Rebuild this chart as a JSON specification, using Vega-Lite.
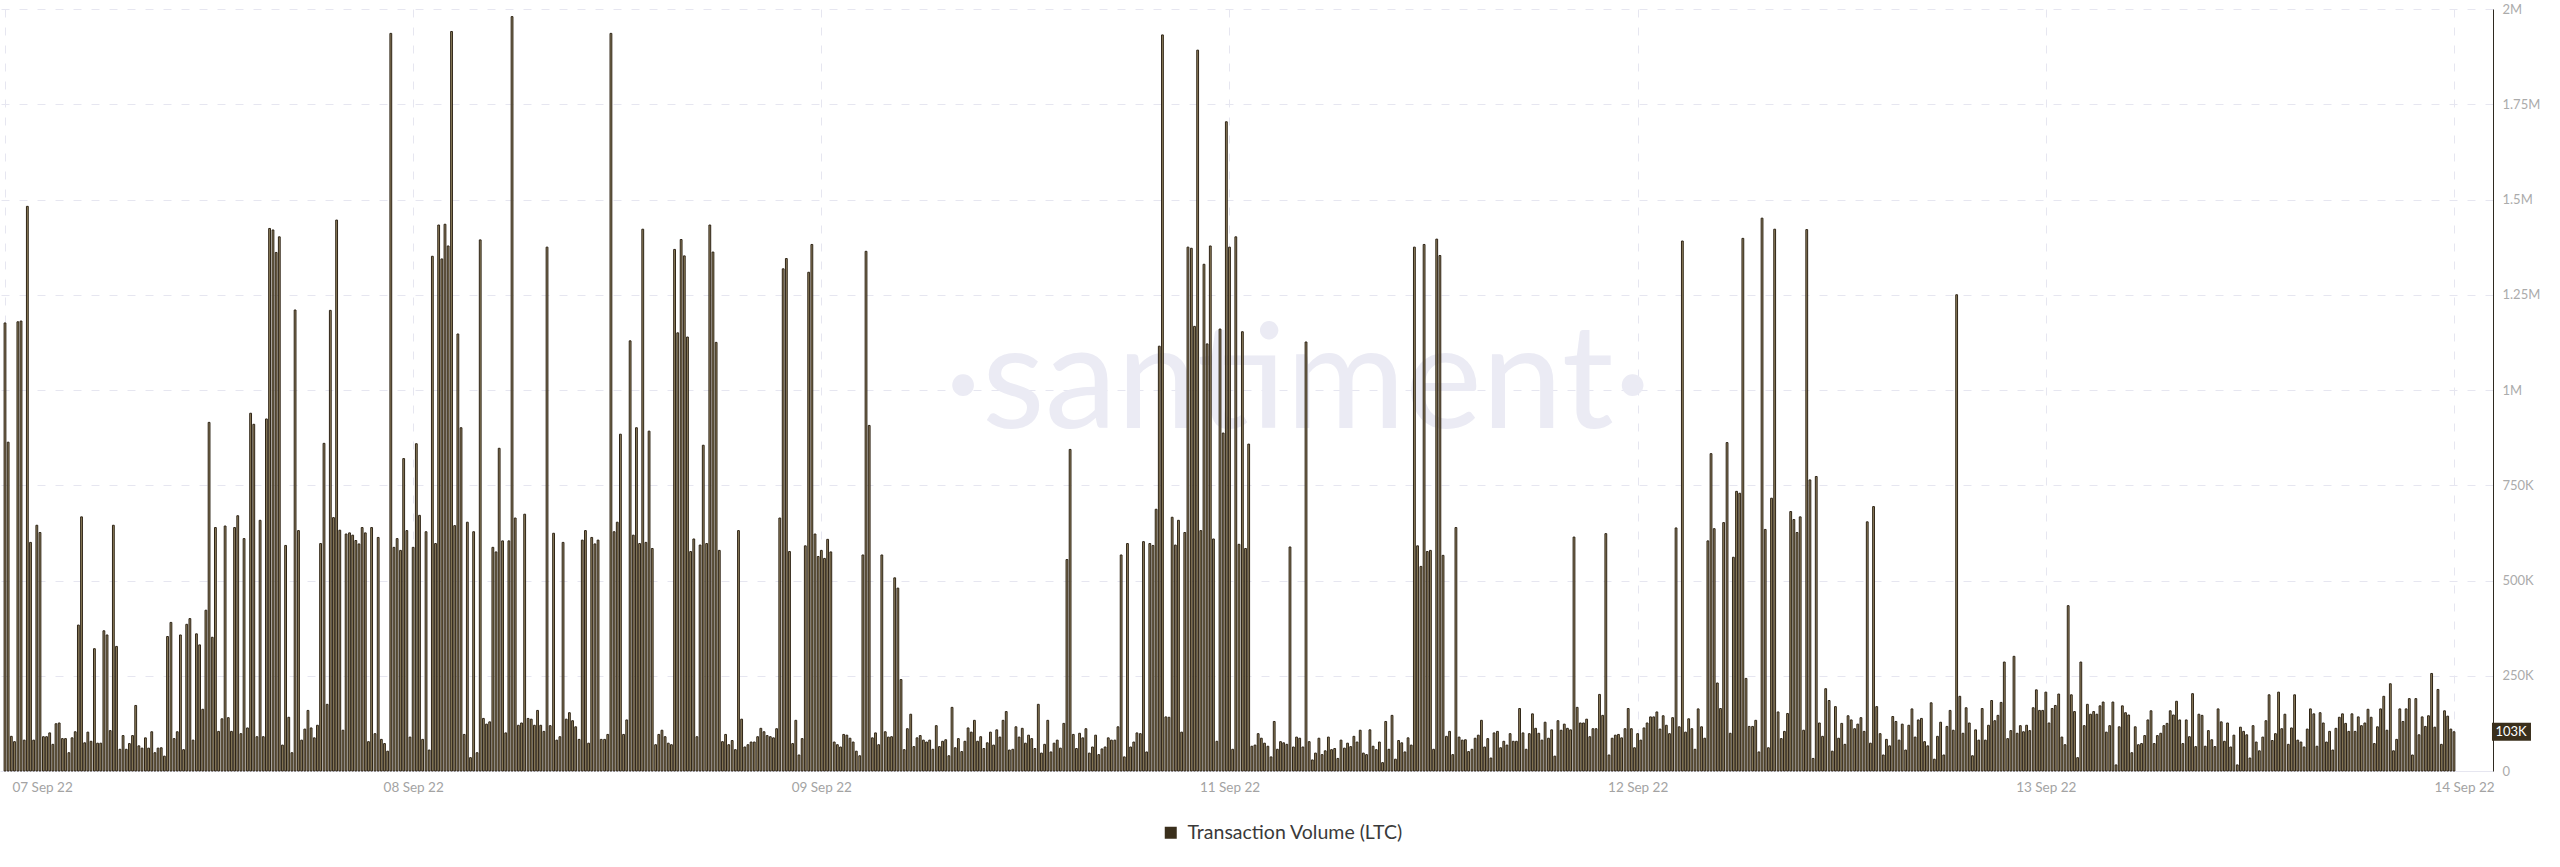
{
"$schema":"https://vega.github.io/schema/vega-lite/v6.json",
"width":2493,"height":762,
"autosize":{"type":"none"},
"padding":{"left":0,"top":9,"right":67,"bottom":96},
"background":"#ffffff",
"config":{"view":{"stroke":null},"font":"Lato"},
"data":{"format":{"parse":{"t":"date:'%Y-%m-%d %H:%M'"}},"values":[
{"t":"2022-09-07 00:00","v":1176},{"t":"2022-09-07 00:13","v":863},{"t":"2022-09-07 00:26","v":91},{"t":"2022-09-07 00:39","v":77},{"t":"2022-09-07 00:53","v":1179},{"t":"2022-09-07 01:06","v":1181},{"t":"2022-09-07 01:19","v":81},{"t":"2022-09-07 01:32","v":1482},{"t":"2022-09-07 01:45","v":600},{"t":"2022-09-07 01:58","v":81},{"t":"2022-09-07 02:11","v":645},{"t":"2022-09-07 02:24","v":626},{"t":"2022-09-07 02:38","v":90},{"t":"2022-09-07 02:51","v":90},{"t":"2022-09-07 03:04","v":100},{"t":"2022-09-07 03:17","v":70},{"t":"2022-09-07 03:30","v":124},{"t":"2022-09-07 03:43","v":126},{"t":"2022-09-07 03:56","v":85},{"t":"2022-09-07 04:09","v":85},{"t":"2022-09-07 04:23","v":48},{"t":"2022-09-07 04:36","v":87},{"t":"2022-09-07 04:49","v":103},{"t":"2022-09-07 05:02","v":383},{"t":"2022-09-07 05:15","v":667},{"t":"2022-09-07 05:28","v":74},{"t":"2022-09-07 05:41","v":102},{"t":"2022-09-07 05:54","v":78},{"t":"2022-09-07 06:08","v":321},{"t":"2022-09-07 06:21","v":73},{"t":"2022-09-07 06:34","v":73},{"t":"2022-09-07 06:47","v":368},
{"t":"2022-09-07 07:00","v":357},{"t":"2022-09-07 07:13","v":106},{"t":"2022-09-07 07:26","v":645},{"t":"2022-09-07 07:39","v":327},{"t":"2022-09-07 07:53","v":57},{"t":"2022-09-07 08:06","v":93},{"t":"2022-09-07 08:19","v":57},{"t":"2022-09-07 08:32","v":72},{"t":"2022-09-07 08:45","v":93},{"t":"2022-09-07 08:58","v":172},{"t":"2022-09-07 09:11","v":66},{"t":"2022-09-07 09:24","v":60},{"t":"2022-09-07 09:38","v":87},{"t":"2022-09-07 09:51","v":60},{"t":"2022-09-07 10:04","v":103},{"t":"2022-09-07 10:17","v":48},{"t":"2022-09-07 10:30","v":60},{"t":"2022-09-07 10:43","v":61},{"t":"2022-09-07 10:56","v":39},{"t":"2022-09-07 11:09","v":353},{"t":"2022-09-07 11:23","v":390},{"t":"2022-09-07 11:36","v":85},{"t":"2022-09-07 11:49","v":103},{"t":"2022-09-07 12:02","v":357},{"t":"2022-09-07 12:15","v":56},{"t":"2022-09-07 12:28","v":385},{"t":"2022-09-07 12:41","v":400},{"t":"2022-09-07 12:54","v":81},{"t":"2022-09-07 13:08","v":360},{"t":"2022-09-07 13:21","v":331},{"t":"2022-09-07 13:34","v":162},{"t":"2022-09-07 13:47","v":422},
{"t":"2022-09-07 14:00","v":915},{"t":"2022-09-07 14:13","v":351},{"t":"2022-09-07 14:26","v":639},{"t":"2022-09-07 14:39","v":104},{"t":"2022-09-07 14:53","v":137},{"t":"2022-09-07 15:06","v":643},{"t":"2022-09-07 15:19","v":140},{"t":"2022-09-07 15:32","v":104},{"t":"2022-09-07 15:45","v":639},{"t":"2022-09-07 15:58","v":670},{"t":"2022-09-07 16:11","v":98},{"t":"2022-09-07 16:24","v":610},{"t":"2022-09-07 16:38","v":113},{"t":"2022-09-07 16:51","v":939},{"t":"2022-09-07 17:04","v":910},{"t":"2022-09-07 17:17","v":90},{"t":"2022-09-07 17:30","v":658},{"t":"2022-09-07 17:43","v":90},{"t":"2022-09-07 17:56","v":924},{"t":"2022-09-07 18:09","v":1424},{"t":"2022-09-07 18:23","v":1420},{"t":"2022-09-07 18:36","v":1361},{"t":"2022-09-07 18:49","v":1402},{"t":"2022-09-07 19:02","v":68},{"t":"2022-09-07 19:15","v":592},{"t":"2022-09-07 19:28","v":141},{"t":"2022-09-07 19:41","v":48},{"t":"2022-09-07 19:54","v":1210},{"t":"2022-09-07 20:08","v":631},{"t":"2022-09-07 20:21","v":81},{"t":"2022-09-07 20:34","v":110},{"t":"2022-09-07 20:47","v":159},
{"t":"2022-09-07 21:00","v":113},{"t":"2022-09-07 21:13","v":87},{"t":"2022-09-07 21:26","v":120},{"t":"2022-09-07 21:39","v":597},{"t":"2022-09-07 21:53","v":860},{"t":"2022-09-07 22:06","v":175},{"t":"2022-09-07 22:19","v":1209},{"t":"2022-09-07 22:32","v":665},{"t":"2022-09-07 22:45","v":1446},{"t":"2022-09-07 22:58","v":632},{"t":"2022-09-07 23:11","v":107},{"t":"2022-09-07 23:24","v":622},{"t":"2022-09-07 23:38","v":625},{"t":"2022-09-07 23:51","v":619},{"t":"2022-09-08 00:04","v":605},{"t":"2022-09-08 00:17","v":596},{"t":"2022-09-08 00:30","v":639},{"t":"2022-09-08 00:43","v":625},{"t":"2022-09-08 00:56","v":77},{"t":"2022-09-08 01:09","v":639},{"t":"2022-09-08 01:23","v":98},{"t":"2022-09-08 01:36","v":613},{"t":"2022-09-08 01:49","v":83},{"t":"2022-09-08 02:02","v":72},{"t":"2022-09-08 02:15","v":52},{"t":"2022-09-08 02:28","v":1936},{"t":"2022-09-08 02:41","v":587},{"t":"2022-09-08 02:54","v":610},{"t":"2022-09-08 03:08","v":579},{"t":"2022-09-08 03:21","v":820},{"t":"2022-09-08 03:34","v":631},{"t":"2022-09-08 03:47","v":89},
{"t":"2022-09-08 04:00","v":587},{"t":"2022-09-08 04:13","v":859},{"t":"2022-09-08 04:26","v":671},{"t":"2022-09-08 04:39","v":83},{"t":"2022-09-08 04:53","v":628},{"t":"2022-09-08 05:06","v":55},{"t":"2022-09-08 05:19","v":1351},{"t":"2022-09-08 05:32","v":597},{"t":"2022-09-08 05:45","v":1433},{"t":"2022-09-08 05:58","v":1344},{"t":"2022-09-08 06:11","v":1435},{"t":"2022-09-08 06:24","v":1378},{"t":"2022-09-08 06:38","v":1941},{"t":"2022-09-08 06:51","v":644},{"t":"2022-09-08 07:04","v":1147},{"t":"2022-09-08 07:17","v":901},{"t":"2022-09-08 07:30","v":96},{"t":"2022-09-08 07:43","v":653},{"t":"2022-09-08 07:56","v":35},{"t":"2022-09-08 08:09","v":628},{"t":"2022-09-08 08:23","v":48},{"t":"2022-09-08 08:36","v":1394},{"t":"2022-09-08 08:49","v":138},{"t":"2022-09-08 09:02","v":123},{"t":"2022-09-08 09:15","v":129},{"t":"2022-09-08 09:28","v":587},{"t":"2022-09-08 09:41","v":575},{"t":"2022-09-08 09:54","v":847},{"t":"2022-09-08 10:08","v":604},{"t":"2022-09-08 10:21","v":100},{"t":"2022-09-08 10:34","v":604},{"t":"2022-09-08 10:47","v":1980},
{"t":"2022-09-08 11:00","v":664},{"t":"2022-09-08 11:13","v":120},{"t":"2022-09-08 11:26","v":126},{"t":"2022-09-08 11:39","v":674},{"t":"2022-09-08 11:53","v":138},{"t":"2022-09-08 12:06","v":136},{"t":"2022-09-08 12:19","v":120},{"t":"2022-09-08 12:32","v":159},{"t":"2022-09-08 12:45","v":120},{"t":"2022-09-08 12:58","v":104},{"t":"2022-09-08 13:11","v":1375},{"t":"2022-09-08 13:24","v":119},{"t":"2022-09-08 13:38","v":624},{"t":"2022-09-08 13:51","v":81},{"t":"2022-09-08 14:04","v":90},{"t":"2022-09-08 14:17","v":600},{"t":"2022-09-08 14:30","v":136},{"t":"2022-09-08 14:43","v":153},{"t":"2022-09-08 14:56","v":132},{"t":"2022-09-08 15:09","v":116},{"t":"2022-09-08 15:23","v":83},{"t":"2022-09-08 15:36","v":606},{"t":"2022-09-08 15:49","v":631},{"t":"2022-09-08 16:02","v":73},{"t":"2022-09-08 16:15","v":613},{"t":"2022-09-08 16:28","v":596},{"t":"2022-09-08 16:41","v":606},{"t":"2022-09-08 16:54","v":83},{"t":"2022-09-08 17:08","v":83},{"t":"2022-09-08 17:21","v":96},{"t":"2022-09-08 17:34","v":1936},{"t":"2022-09-08 17:47","v":628},
{"t":"2022-09-08 18:00","v":653},{"t":"2022-09-08 18:13","v":884},{"t":"2022-09-08 18:26","v":96},{"t":"2022-09-08 18:39","v":134},{"t":"2022-09-08 18:53","v":1129},{"t":"2022-09-08 19:06","v":619},{"t":"2022-09-08 19:19","v":901},{"t":"2022-09-08 19:32","v":597},{"t":"2022-09-08 19:45","v":1422},{"t":"2022-09-08 19:58","v":600},{"t":"2022-09-08 20:11","v":892},{"t":"2022-09-08 20:24","v":584},{"t":"2022-09-08 20:38","v":69},{"t":"2022-09-08 20:51","v":96},{"t":"2022-09-08 21:04","v":107},{"t":"2022-09-08 21:17","v":90},{"t":"2022-09-08 21:30","v":73},{"t":"2022-09-08 21:43","v":69},{"t":"2022-09-08 21:56","v":1369},{"t":"2022-09-08 22:09","v":1150},{"t":"2022-09-08 22:23","v":1395},{"t":"2022-09-08 22:36","v":1352},{"t":"2022-09-08 22:49","v":1139},{"t":"2022-09-08 23:02","v":576},{"t":"2022-09-08 23:15","v":609},{"t":"2022-09-08 23:28","v":90},{"t":"2022-09-08 23:41","v":593},{"t":"2022-09-08 23:54","v":855},{"t":"2022-09-09 00:08","v":597},{"t":"2022-09-09 00:21","v":1433},{"t":"2022-09-09 00:34","v":1362},{"t":"2022-09-09 00:47","v":1125},
{"t":"2022-09-09 01:00","v":579},{"t":"2022-09-09 01:13","v":77},{"t":"2022-09-09 01:26","v":96},{"t":"2022-09-09 01:39","v":69},{"t":"2022-09-09 01:53","v":80},{"t":"2022-09-09 02:06","v":56},{"t":"2022-09-09 02:19","v":631},{"t":"2022-09-09 02:32","v":136},{"t":"2022-09-09 02:45","v":63},{"t":"2022-09-09 02:58","v":69},{"t":"2022-09-09 03:11","v":76},{"t":"2022-09-09 03:24","v":76},{"t":"2022-09-09 03:38","v":90},{"t":"2022-09-09 03:51","v":112},{"t":"2022-09-09 04:04","v":103},{"t":"2022-09-09 04:17","v":93},{"t":"2022-09-09 04:30","v":90},{"t":"2022-09-09 04:43","v":87},{"t":"2022-09-09 04:56","v":111},{"t":"2022-09-09 05:09","v":664},{"t":"2022-09-09 05:23","v":1318},{"t":"2022-09-09 05:36","v":1345},{"t":"2022-09-09 05:49","v":576},{"t":"2022-09-09 06:02","v":72},{"t":"2022-09-09 06:15","v":133},{"t":"2022-09-09 06:28","v":42},{"t":"2022-09-09 06:41","v":85},{"t":"2022-09-09 06:54","v":591},{"t":"2022-09-09 07:08","v":1309},{"t":"2022-09-09 07:21","v":1382},{"t":"2022-09-09 07:34","v":622},{"t":"2022-09-09 07:47","v":563},
{"t":"2022-09-09 08:00","v":579},{"t":"2022-09-09 08:13","v":558},{"t":"2022-09-09 08:26","v":608},{"t":"2022-09-09 08:39","v":575},{"t":"2022-09-09 08:53","v":76},{"t":"2022-09-09 09:06","v":69},{"t":"2022-09-09 09:19","v":63},{"t":"2022-09-09 09:32","v":96},{"t":"2022-09-09 09:45","v":94},{"t":"2022-09-09 09:58","v":86},{"t":"2022-09-09 10:11","v":76},{"t":"2022-09-09 10:24","v":52},{"t":"2022-09-09 10:38","v":40},{"t":"2022-09-09 10:51","v":567},{"t":"2022-09-09 11:04","v":1364},{"t":"2022-09-09 11:17","v":907},{"t":"2022-09-09 11:30","v":87},{"t":"2022-09-09 11:43","v":100},{"t":"2022-09-09 11:56","v":69},{"t":"2022-09-09 12:09","v":567},{"t":"2022-09-09 12:23","v":103},{"t":"2022-09-09 12:36","v":89},{"t":"2022-09-09 12:49","v":90},{"t":"2022-09-09 13:02","v":507},{"t":"2022-09-09 13:15","v":480},{"t":"2022-09-09 13:28","v":240},{"t":"2022-09-09 13:41","v":56},{"t":"2022-09-09 13:54","v":111},{"t":"2022-09-09 14:08","v":149},{"t":"2022-09-09 14:21","v":64},{"t":"2022-09-09 14:34","v":87},{"t":"2022-09-09 14:47","v":93},
{"t":"2022-09-09 15:00","v":81},{"t":"2022-09-09 15:13","v":76},{"t":"2022-09-09 15:26","v":81},{"t":"2022-09-09 15:39","v":57},{"t":"2022-09-09 15:53","v":119},{"t":"2022-09-09 16:06","v":64},{"t":"2022-09-09 16:19","v":78},{"t":"2022-09-09 16:32","v":82},{"t":"2022-09-09 16:45","v":40},{"t":"2022-09-09 16:58","v":167},{"t":"2022-09-09 17:11","v":61},{"t":"2022-09-09 17:24","v":85},{"t":"2022-09-09 17:38","v":51},{"t":"2022-09-09 17:51","v":78},{"t":"2022-09-09 18:04","v":113},{"t":"2022-09-09 18:17","v":102},{"t":"2022-09-09 18:30","v":133},{"t":"2022-09-09 18:43","v":78},{"t":"2022-09-09 18:56","v":90},{"t":"2022-09-09 19:09","v":59},{"t":"2022-09-09 19:23","v":74},{"t":"2022-09-09 19:36","v":102},{"t":"2022-09-09 19:49","v":68},{"t":"2022-09-09 20:02","v":108},{"t":"2022-09-09 20:15","v":89},{"t":"2022-09-09 20:28","v":133},{"t":"2022-09-09 20:41","v":156},{"t":"2022-09-09 20:54","v":55},{"t":"2022-09-09 21:08","v":57},{"t":"2022-09-09 21:21","v":116},{"t":"2022-09-09 21:34","v":89},{"t":"2022-09-09 21:47","v":112},
{"t":"2022-09-09 22:00","v":73},{"t":"2022-09-09 22:13","v":94},{"t":"2022-09-09 22:26","v":85},{"t":"2022-09-09 22:39","v":59},{"t":"2022-09-09 22:53","v":175},{"t":"2022-09-09 23:06","v":47},{"t":"2022-09-09 23:19","v":70},{"t":"2022-09-09 23:32","v":133},{"t":"2022-09-09 23:45","v":50},{"t":"2022-09-09 23:58","v":73},{"t":"2022-09-10 00:11","v":81},{"t":"2022-09-10 00:24","v":60},{"t":"2022-09-10 00:38","v":125},{"t":"2022-09-10 00:51","v":555},{"t":"2022-09-10 01:04","v":844},{"t":"2022-09-10 01:17","v":96},{"t":"2022-09-10 01:30","v":59},{"t":"2022-09-10 01:43","v":99},{"t":"2022-09-10 01:56","v":87},{"t":"2022-09-10 02:09","v":111},{"t":"2022-09-10 02:23","v":47},{"t":"2022-09-10 02:36","v":63},{"t":"2022-09-10 02:49","v":94},{"t":"2022-09-10 03:02","v":43},{"t":"2022-09-10 03:15","v":58},{"t":"2022-09-10 03:28","v":63},{"t":"2022-09-10 03:41","v":87},{"t":"2022-09-10 03:54","v":81},{"t":"2022-09-10 04:08","v":81},{"t":"2022-09-10 04:21","v":116},{"t":"2022-09-10 04:34","v":567},{"t":"2022-09-10 04:47","v":37},
{"t":"2022-09-10 05:00","v":597},{"t":"2022-09-10 05:13","v":63},{"t":"2022-09-10 05:26","v":76},{"t":"2022-09-10 05:39","v":100},{"t":"2022-09-10 05:53","v":98},{"t":"2022-09-10 06:06","v":602},{"t":"2022-09-10 06:19","v":50},{"t":"2022-09-10 06:32","v":597},{"t":"2022-09-10 06:45","v":592},{"t":"2022-09-10 06:58","v":687},{"t":"2022-09-10 07:11","v":1115},{"t":"2022-09-10 07:24","v":1932},{"t":"2022-09-10 07:38","v":142},{"t":"2022-09-10 07:51","v":141},{"t":"2022-09-10 08:04","v":666},{"t":"2022-09-10 08:17","v":593},{"t":"2022-09-10 08:30","v":658},{"t":"2022-09-10 08:43","v":102},{"t":"2022-09-10 08:56","v":626},{"t":"2022-09-10 09:09","v":1375},{"t":"2022-09-10 09:23","v":1372},{"t":"2022-09-10 09:36","v":1167},{"t":"2022-09-10 09:49","v":1892},{"t":"2022-09-10 10:02","v":631},{"t":"2022-09-10 10:15","v":1330},{"t":"2022-09-10 10:28","v":1121},{"t":"2022-09-10 10:41","v":1378},{"t":"2022-09-10 10:54","v":609},{"t":"2022-09-10 11:08","v":78},{"t":"2022-09-10 11:21","v":1160},{"t":"2022-09-10 11:34","v":887},{"t":"2022-09-10 11:47","v":1704},
{"t":"2022-09-10 12:00","v":1375},{"t":"2022-09-10 12:13","v":57},{"t":"2022-09-10 12:26","v":1402},{"t":"2022-09-10 12:39","v":595},{"t":"2022-09-10 12:53","v":1153},{"t":"2022-09-10 13:06","v":584},{"t":"2022-09-10 13:19","v":858},{"t":"2022-09-10 13:32","v":65},{"t":"2022-09-10 13:45","v":68},{"t":"2022-09-10 13:58","v":98},{"t":"2022-09-10 14:11","v":86},{"t":"2022-09-10 14:24","v":73},{"t":"2022-09-10 14:38","v":65},{"t":"2022-09-10 14:51","v":37},{"t":"2022-09-10 15:04","v":130},{"t":"2022-09-10 15:17","v":57},{"t":"2022-09-10 15:30","v":77},{"t":"2022-09-10 15:43","v":74},{"t":"2022-09-10 15:56","v":70},{"t":"2022-09-10 16:09","v":588},{"t":"2022-09-10 16:23","v":63},{"t":"2022-09-10 16:36","v":89},{"t":"2022-09-10 16:49","v":86},{"t":"2022-09-10 17:02","v":63},{"t":"2022-09-10 17:15","v":1126},{"t":"2022-09-10 17:28","v":77},{"t":"2022-09-10 17:41","v":29},{"t":"2022-09-10 17:54","v":47},{"t":"2022-09-10 18:08","v":86},{"t":"2022-09-10 18:21","v":43},{"t":"2022-09-10 18:34","v":53},{"t":"2022-09-10 18:47","v":89},
{"t":"2022-09-10 19:00","v":56},{"t":"2022-09-10 19:13","v":59},{"t":"2022-09-10 19:26","v":33},{"t":"2022-09-10 19:39","v":81},{"t":"2022-09-10 19:53","v":60},{"t":"2022-09-10 20:06","v":73},{"t":"2022-09-10 20:19","v":64},{"t":"2022-09-10 20:32","v":91},{"t":"2022-09-10 20:45","v":76},{"t":"2022-09-10 20:58","v":107},{"t":"2022-09-10 21:11","v":47},{"t":"2022-09-10 21:24","v":43},{"t":"2022-09-10 21:38","v":108},{"t":"2022-09-10 21:51","v":65},{"t":"2022-09-10 22:04","v":56},{"t":"2022-09-10 22:17","v":76},{"t":"2022-09-10 22:30","v":22},{"t":"2022-09-10 22:43","v":130},{"t":"2022-09-10 22:56","v":57},{"t":"2022-09-10 23:09","v":146},{"t":"2022-09-10 23:23","v":31},{"t":"2022-09-10 23:36","v":80},{"t":"2022-09-10 23:49","v":74},{"t":"2022-09-11 00:02","v":50},{"t":"2022-09-11 00:15","v":87},{"t":"2022-09-11 00:28","v":68},{"t":"2022-09-11 00:41","v":1375},{"t":"2022-09-11 00:54","v":591},{"t":"2022-09-11 01:08","v":537},{"t":"2022-09-11 01:21","v":1382},{"t":"2022-09-11 01:34","v":576},{"t":"2022-09-11 01:47","v":579},
{"t":"2022-09-11 02:00","v":57},{"t":"2022-09-11 02:13","v":1396},{"t":"2022-09-11 02:26","v":1353},{"t":"2022-09-11 02:39","v":566},{"t":"2022-09-11 02:53","v":91},{"t":"2022-09-11 03:06","v":104},{"t":"2022-09-11 03:19","v":43},{"t":"2022-09-11 03:32","v":639},{"t":"2022-09-11 03:45","v":89},{"t":"2022-09-11 03:58","v":81},{"t":"2022-09-11 04:11","v":82},{"t":"2022-09-11 04:24","v":51},{"t":"2022-09-11 04:38","v":57},{"t":"2022-09-11 04:51","v":86},{"t":"2022-09-11 05:04","v":94},{"t":"2022-09-11 05:17","v":133},{"t":"2022-09-11 05:30","v":63},{"t":"2022-09-11 05:43","v":85},{"t":"2022-09-11 05:56","v":34},{"t":"2022-09-11 06:09","v":100},{"t":"2022-09-11 06:23","v":104},{"t":"2022-09-11 06:36","v":61},{"t":"2022-09-11 06:49","v":78},{"t":"2022-09-11 07:02","v":68},{"t":"2022-09-11 07:15","v":98},{"t":"2022-09-11 07:28","v":78},{"t":"2022-09-11 07:41","v":78},{"t":"2022-09-11 07:54","v":164},{"t":"2022-09-11 08:08","v":100},{"t":"2022-09-11 08:21","v":57},{"t":"2022-09-11 08:34","v":98},{"t":"2022-09-11 08:47","v":150},
{"t":"2022-09-11 09:00","v":112},{"t":"2022-09-11 09:13","v":99},{"t":"2022-09-11 09:26","v":81},{"t":"2022-09-11 09:39","v":128},{"t":"2022-09-11 09:53","v":86},{"t":"2022-09-11 10:06","v":108},{"t":"2022-09-11 10:19","v":39},{"t":"2022-09-11 10:32","v":132},{"t":"2022-09-11 10:45","v":107},{"t":"2022-09-11 10:58","v":123},{"t":"2022-09-11 11:11","v":112},{"t":"2022-09-11 11:24","v":108},{"t":"2022-09-11 11:38","v":614},{"t":"2022-09-11 11:51","v":167},{"t":"2022-09-11 12:04","v":126},{"t":"2022-09-11 12:17","v":126},{"t":"2022-09-11 12:30","v":136},{"t":"2022-09-11 12:43","v":90},{"t":"2022-09-11 12:56","v":111},{"t":"2022-09-11 13:09","v":111},{"t":"2022-09-11 13:23","v":201},{"t":"2022-09-11 13:36","v":146},{"t":"2022-09-11 13:49","v":623},{"t":"2022-09-11 14:02","v":42},{"t":"2022-09-11 14:15","v":86},{"t":"2022-09-11 14:28","v":94},{"t":"2022-09-11 14:41","v":96},{"t":"2022-09-11 14:54","v":87},{"t":"2022-09-11 15:08","v":111},{"t":"2022-09-11 15:21","v":164},{"t":"2022-09-11 15:34","v":111},{"t":"2022-09-11 15:47","v":61},
{"t":"2022-09-11 16:00","v":98},{"t":"2022-09-11 16:13","v":81},{"t":"2022-09-11 16:26","v":113},{"t":"2022-09-11 16:39","v":126},{"t":"2022-09-11 16:53","v":142},{"t":"2022-09-11 17:06","v":142},{"t":"2022-09-11 17:19","v":155},{"t":"2022-09-11 17:32","v":110},{"t":"2022-09-11 17:45","v":145},{"t":"2022-09-11 17:58","v":120},{"t":"2022-09-11 18:11","v":98},{"t":"2022-09-11 18:24","v":140},{"t":"2022-09-11 18:38","v":638},{"t":"2022-09-11 18:51","v":116},{"t":"2022-09-11 19:04","v":1391},{"t":"2022-09-11 19:17","v":102},{"t":"2022-09-11 19:30","v":137},{"t":"2022-09-11 19:43","v":111},{"t":"2022-09-11 19:56","v":57},{"t":"2022-09-11 20:09","v":163},{"t":"2022-09-11 20:23","v":116},{"t":"2022-09-11 20:36","v":86},{"t":"2022-09-11 20:49","v":604},{"t":"2022-09-11 21:02","v":833},{"t":"2022-09-11 21:15","v":636},{"t":"2022-09-11 21:28","v":231},{"t":"2022-09-11 21:41","v":164},{"t":"2022-09-11 21:54","v":652},{"t":"2022-09-11 22:08","v":862},{"t":"2022-09-11 22:21","v":99},{"t":"2022-09-11 22:34","v":561},{"t":"2022-09-11 22:47","v":734},
{"t":"2022-09-11 23:00","v":729},{"t":"2022-09-11 23:13","v":1398},{"t":"2022-09-11 23:26","v":243},{"t":"2022-09-11 23:39","v":117},{"t":"2022-09-11 23:53","v":117},{"t":"2022-09-12 00:06","v":133},{"t":"2022-09-12 00:19","v":50},{"t":"2022-09-12 00:32","v":1451},{"t":"2022-09-12 00:45","v":634},{"t":"2022-09-12 00:58","v":61},{"t":"2022-09-12 01:11","v":716},{"t":"2022-09-12 01:24","v":1422},{"t":"2022-09-12 01:38","v":155},{"t":"2022-09-12 01:51","v":85},{"t":"2022-09-12 02:04","v":104},{"t":"2022-09-12 02:17","v":151},{"t":"2022-09-12 02:30","v":681},{"t":"2022-09-12 02:43","v":660},{"t":"2022-09-12 02:56","v":626},{"t":"2022-09-12 03:09","v":667},{"t":"2022-09-12 03:23","v":107},{"t":"2022-09-12 03:36","v":1421},{"t":"2022-09-12 03:49","v":764},{"t":"2022-09-12 04:02","v":33},{"t":"2022-09-12 04:15","v":773},{"t":"2022-09-12 04:28","v":126},{"t":"2022-09-12 04:41","v":91},{"t":"2022-09-12 04:54","v":216},{"t":"2022-09-12 05:08","v":185},{"t":"2022-09-12 05:21","v":52},{"t":"2022-09-12 05:34","v":169},{"t":"2022-09-12 05:47","v":86},
{"t":"2022-09-12 06:00","v":125},{"t":"2022-09-12 06:13","v":70},{"t":"2022-09-12 06:26","v":145},{"t":"2022-09-12 06:39","v":134},{"t":"2022-09-12 06:53","v":111},{"t":"2022-09-12 07:06","v":123},{"t":"2022-09-12 07:19","v":140},{"t":"2022-09-12 07:32","v":104},{"t":"2022-09-12 07:45","v":654},{"t":"2022-09-12 07:58","v":73},{"t":"2022-09-12 08:11","v":694},{"t":"2022-09-12 08:24","v":169},{"t":"2022-09-12 08:38","v":98},{"t":"2022-09-12 08:51","v":42},{"t":"2022-09-12 09:04","v":83},{"t":"2022-09-12 09:17","v":66},{"t":"2022-09-12 09:30","v":143},{"t":"2022-09-12 09:43","v":130},{"t":"2022-09-12 09:56","v":81},{"t":"2022-09-12 10:09","v":123},{"t":"2022-09-12 10:23","v":55},{"t":"2022-09-12 10:36","v":120},{"t":"2022-09-12 10:49","v":163},{"t":"2022-09-12 11:02","v":89},{"t":"2022-09-12 11:15","v":134},{"t":"2022-09-12 11:28","v":138},{"t":"2022-09-12 11:41","v":77},{"t":"2022-09-12 11:54","v":66},{"t":"2022-09-12 12:08","v":179},{"t":"2022-09-12 12:21","v":31},{"t":"2022-09-12 12:34","v":91},{"t":"2022-09-12 12:47","v":128},
{"t":"2022-09-12 13:00","v":42},{"t":"2022-09-12 13:13","v":117},{"t":"2022-09-12 13:26","v":159},{"t":"2022-09-12 13:39","v":107},{"t":"2022-09-12 13:53","v":1250},{"t":"2022-09-12 14:06","v":196},{"t":"2022-09-12 14:19","v":99},{"t":"2022-09-12 14:32","v":166},{"t":"2022-09-12 14:45","v":126},{"t":"2022-09-12 14:58","v":40},{"t":"2022-09-12 15:11","v":108},{"t":"2022-09-12 15:24","v":81},{"t":"2022-09-12 15:38","v":164},{"t":"2022-09-12 15:51","v":81},{"t":"2022-09-12 16:04","v":120},{"t":"2022-09-12 16:17","v":185},{"t":"2022-09-12 16:30","v":132},{"t":"2022-09-12 16:43","v":146},{"t":"2022-09-12 16:56","v":180},{"t":"2022-09-12 17:09","v":286},{"t":"2022-09-12 17:23","v":85},{"t":"2022-09-12 17:36","v":106},{"t":"2022-09-12 17:49","v":301},{"t":"2022-09-12 18:02","v":99},{"t":"2022-09-12 18:15","v":119},{"t":"2022-09-12 18:28","v":103},{"t":"2022-09-12 18:41","v":120},{"t":"2022-09-12 18:54","v":106},{"t":"2022-09-12 19:08","v":166},{"t":"2022-09-12 19:21","v":213},{"t":"2022-09-12 19:34","v":159},{"t":"2022-09-12 19:47","v":159},
{"t":"2022-09-12 20:00","v":207},{"t":"2022-09-12 20:13","v":126},{"t":"2022-09-12 20:26","v":164},{"t":"2022-09-12 20:39","v":172},{"t":"2022-09-12 20:53","v":202},{"t":"2022-09-12 21:06","v":89},{"t":"2022-09-12 21:19","v":69},{"t":"2022-09-12 21:32","v":434},{"t":"2022-09-12 21:45","v":200},{"t":"2022-09-12 21:58","v":156},{"t":"2022-09-12 22:11","v":35},{"t":"2022-09-12 22:24","v":286},{"t":"2022-09-12 22:38","v":119},{"t":"2022-09-12 22:51","v":175},{"t":"2022-09-12 23:04","v":149},{"t":"2022-09-12 23:17","v":156},{"t":"2022-09-12 23:30","v":149},{"t":"2022-09-12 23:43","v":171},{"t":"2022-09-12 23:56","v":181},{"t":"2022-09-13 00:09","v":102},{"t":"2022-09-13 00:23","v":119},{"t":"2022-09-13 00:36","v":181},{"t":"2022-09-13 00:49","v":16},{"t":"2022-09-13 01:02","v":116},{"t":"2022-09-13 01:15","v":171},{"t":"2022-09-13 01:28","v":153},{"t":"2022-09-13 01:41","v":147},{"t":"2022-09-13 01:54","v":48},{"t":"2022-09-13 02:08","v":116},{"t":"2022-09-13 02:21","v":69},{"t":"2022-09-13 02:34","v":72},{"t":"2022-09-13 02:47","v":93},
{"t":"2022-09-13 03:00","v":134},{"t":"2022-09-13 03:13","v":158},{"t":"2022-09-13 03:26","v":72},{"t":"2022-09-13 03:39","v":93},{"t":"2022-09-13 03:53","v":99},{"t":"2022-09-13 04:06","v":119},{"t":"2022-09-13 04:19","v":125},{"t":"2022-09-13 04:32","v":158},{"t":"2022-09-13 04:45","v":147},{"t":"2022-09-13 04:58","v":183},{"t":"2022-09-13 05:11","v":134},{"t":"2022-09-13 05:24","v":72},{"t":"2022-09-13 05:38","v":134},{"t":"2022-09-13 05:51","v":90},{"t":"2022-09-13 06:04","v":203},{"t":"2022-09-13 06:17","v":64},{"t":"2022-09-13 06:30","v":149},{"t":"2022-09-13 06:43","v":146},{"t":"2022-09-13 06:56","v":65},{"t":"2022-09-13 07:09","v":106},{"t":"2022-09-13 07:23","v":82},{"t":"2022-09-13 07:36","v":64},{"t":"2022-09-13 07:49","v":163},{"t":"2022-09-13 08:02","v":129},{"t":"2022-09-13 08:15","v":78},{"t":"2022-09-13 08:28","v":126},{"t":"2022-09-13 08:41","v":63},{"t":"2022-09-13 08:54","v":94},{"t":"2022-09-13 09:08","v":16},{"t":"2022-09-13 09:21","v":115},{"t":"2022-09-13 09:34","v":104},{"t":"2022-09-13 09:47","v":95},
{"t":"2022-09-13 10:00","v":34},{"t":"2022-09-13 10:13","v":119},{"t":"2022-09-13 10:26","v":76},{"t":"2022-09-13 10:39","v":53},{"t":"2022-09-13 10:53","v":89},{"t":"2022-09-13 11:06","v":132},{"t":"2022-09-13 11:19","v":200},{"t":"2022-09-13 11:32","v":80},{"t":"2022-09-13 11:45","v":98},{"t":"2022-09-13 11:58","v":207},{"t":"2022-09-13 12:11","v":111},{"t":"2022-09-13 12:24","v":149},{"t":"2022-09-13 12:38","v":70},{"t":"2022-09-13 12:51","v":113},{"t":"2022-09-13 13:04","v":200},{"t":"2022-09-13 13:17","v":81},{"t":"2022-09-13 13:30","v":76},{"t":"2022-09-13 13:43","v":63},{"t":"2022-09-13 13:56","v":110},{"t":"2022-09-13 14:09","v":163},{"t":"2022-09-13 14:23","v":150},{"t":"2022-09-13 14:36","v":65},{"t":"2022-09-13 14:49","v":153},{"t":"2022-09-13 15:02","v":126},{"t":"2022-09-13 15:15","v":76},{"t":"2022-09-13 15:28","v":104},{"t":"2022-09-13 15:41","v":55},{"t":"2022-09-13 15:54","v":112},{"t":"2022-09-13 16:08","v":141},{"t":"2022-09-13 16:21","v":150},{"t":"2022-09-13 16:34","v":125},{"t":"2022-09-13 16:47","v":104},
{"t":"2022-09-13 17:00","v":150},{"t":"2022-09-13 17:13","v":104},{"t":"2022-09-13 17:26","v":142},{"t":"2022-09-13 17:39","v":119},{"t":"2022-09-13 17:53","v":126},{"t":"2022-09-13 18:06","v":162},{"t":"2022-09-13 18:19","v":141},{"t":"2022-09-13 18:32","v":72},{"t":"2022-09-13 18:45","v":116},{"t":"2022-09-13 18:58","v":163},{"t":"2022-09-13 19:11","v":196},{"t":"2022-09-13 19:24","v":107},{"t":"2022-09-13 19:38","v":229},{"t":"2022-09-13 19:51","v":53},{"t":"2022-09-13 20:04","v":83},{"t":"2022-09-13 20:17","v":163},{"t":"2022-09-13 20:30","v":130},{"t":"2022-09-13 20:43","v":163},{"t":"2022-09-13 20:56","v":190},{"t":"2022-09-13 21:09","v":42},{"t":"2022-09-13 21:23","v":190},{"t":"2022-09-13 21:36","v":95},{"t":"2022-09-13 21:49","v":142},{"t":"2022-09-13 22:02","v":117},{"t":"2022-09-13 22:15","v":145},{"t":"2022-09-13 22:28","v":256},{"t":"2022-09-13 22:41","v":115},{"t":"2022-09-13 22:54","v":214},{"t":"2022-09-13 23:08","v":70},{"t":"2022-09-13 23:21","v":158},{"t":"2022-09-13 23:34","v":144},{"t":"2022-09-13 23:47","v":110},
{"t":"2022-09-14 00:00","v":103}
]},
"layer":[
{
"data":{"values":[{"w":"·santiment·"}]},
"mark":{"type":"text","font":"Lato","fontSize":145,"fontWeight":400,"color":"#ebebf4","align":"center","baseline":"alphabetic"},
"encoding":{
"text":{"field":"w","type":"nominal"},
"x":{"datum":{"year":2022,"month":9,"date":10,"hours":16,"minutes":41},"type":"temporal"},
"y":{"datum":900,"type":"quantitative"}
}
},
{
"mark":{"type":"bar","width":1.8,"fill":"#968662","strokeWidth":1},
"encoding":{
"x":{"field":"t","type":"temporal",
"scale":{"domain":[{"year":2022,"month":9,"date":7,"hours":0,"minutes":0},{"year":2022,"month":9,"date":14,"hours":2,"minutes":20}]},
"axis":{"title":null,
"values":[{"year":2022,"month":9,"date":7,"hours":0},{"year":2022,"month":9,"date":8,"hours":4},{"year":2022,"month":9,"date":9,"hours":8},{"year":2022,"month":9,"date":10,"hours":12},{"year":2022,"month":9,"date":11,"hours":16},{"year":2022,"month":9,"date":12,"hours":20},{"year":2022,"month":9,"date":14,"hours":0}],
"labelExpr":"timeFormat(time(datum.value) + 43200000, '%d %b %y')",
"grid":true,"gridDash":[8,10],"gridColor":"#e6e6f0","gridWidth":1,
"ticks":false,"domain":true,"domainColor":"#e6e6f0",
"labelColor":"#a3a3a3","labelFont":"Lato","labelFontSize":13.5,"labelPadding":9,
"labelFlush":false,
"labelAlign":{"condition":{"test":"time(datum.value) < time(datetime(2022, 8, 7, 6, 0))","value":"left"},"value":"center"},
"labelOffset":{"condition":[{"test":"time(datum.value) < time(datetime(2022, 8, 7, 6, 0))","value":7},{"test":"time(datum.value) > time(datetime(2022, 8, 13, 12, 0))","value":10}],"value":0}}},
"y":{"field":"v","type":"quantitative",
"scale":{"domain":[0,2000],"nice":false},
"axis":{"title":null,"orient":"right",
"values":[0,250,500,750,1000,1250,1500,1750,2000],
"labelExpr":"datum.value == 0 ? '0' : (datum.value >= 1000 ? format(datum.value / 1000, '~g') + 'M' : datum.value + 'K')",
"grid":true,"gridDash":[8,10],"gridColor":"#e6e6f0","gridWidth":1,
"ticks":false,"domain":true,"domainColor":"#2f2a20","domainWidth":1,
"labelColor":"#ababab","labelFont":"Lato","labelFontSize":13,"labelPadding":9}},
"stroke":{"datum":"Transaction Volume (LTC)","type":"nominal",
"scale":{"range":["#2e2416"]},"legend":null}
}
},
{
"data":{"values":[{"k":"Transaction Volume (LTC)"}]},
"mark":{"type":"point","shape":"square","filled":true,"size":144,"opacity":1,"clip":true},
"encoding":{
"x":{"datum":{"year":2022,"month":9,"date":10,"hours":12},"type":"temporal"},
"y":{"datum":-1000,"type":"quantitative"},
"color":{"field":"k","type":"nominal",
"scale":{"range":["#3a2f1c"]},
"legend":{"title":null,"orient":"none","legendX":1161,"legendY":814,"padding":0,"labelLimit":0,
"symbolType":"square","symbolSize":144,"symbolStrokeWidth":0,"symbolOpacity":1,
"labelFont":"Lato","labelFontSize":19.5,"labelColor":"#3a3a3a","labelOffset":7}}
}
},
{
"transform":[{"filter":"time(datum.t) == time(datetime(2022, 8, 14, 0, 0))"}],
"mark":{"type":"rule","xOffset":38,"x2Offset":77,"strokeWidth":18,"color":"#3a2f1c","strokeCap":"butt"},
"encoding":{"x":{"field":"t","type":"temporal"},"x2":{"field":"t"},"y":{"field":"v","type":"quantitative"}}
},
{
"transform":[{"filter":"time(datum.t) == time(datetime(2022, 8, 14, 0, 0))"},{"calculate":"datum.v + 'K'","as":"lab"}],
"mark":{"type":"text","dx":57,"align":"center","baseline":"middle","color":"#ffffff","font":"Lato","fontSize":13},
"encoding":{"x":{"field":"t","type":"temporal"},"y":{"field":"v","type":"quantitative"},"text":{"field":"lab","type":"nominal"}}
}
]
}
